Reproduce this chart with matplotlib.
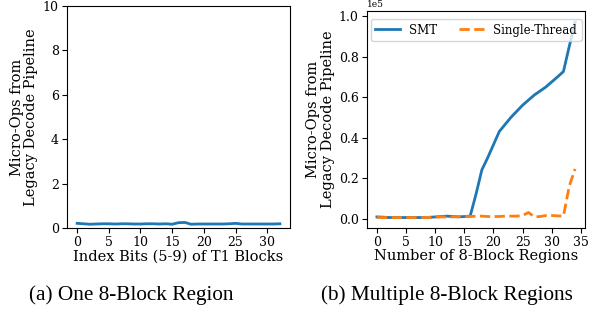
import numpy as np
import matplotlib
matplotlib.use("Agg")
import matplotlib.pyplot as plt

# (a) one 8-block region
idx_bits = list(range(0, 33))
one_region = [0.21, 0.19, 0.17, 0.18, 0.19, 0.19, 0.18, 0.19, 0.19, 0.18, 0.18, 0.19,
              0.19, 0.18, 0.19, 0.17, 0.24, 0.25, 0.17, 0.18, 0.18, 0.18, 0.18, 0.18,
              0.19, 0.21, 0.18, 0.18, 0.18, 0.18, 0.18, 0.18, 0.19]

# (b) multiple 8-block regions
n_regions = list(range(0, 35))
smt = [0.008, 0.007, 0.005, 0.005, 0.005, 0.005, 0.005, 0.005, 0.005, 0.006, 0.008, 0.010,
       0.012, 0.010, 0.008, 0.010, 0.012, 0.120, 0.240, 0.300, 0.365, 0.430, 0.465, 0.500,
       0.530, 0.560, 0.585, 0.610, 0.630, 0.650, 0.675, 0.700, 0.726, 0.850, 0.970]
single = [0.005, 0.005, 0.005, 0.005, 0.005, 0.005, 0.005, 0.005, 0.005, 0.006, 0.007, 0.008,
          0.008, 0.008, 0.010, 0.010, 0.010, 0.012, 0.012, 0.010, 0.010, 0.010, 0.012, 0.012,
          0.012, 0.015, 0.030, 0.008, 0.010, 0.015, 0.015, 0.013, 0.012, 0.160, 0.245]
smt_err = [0.003] * 17 + [0.006] * 18

plt.rcParams["font.family"] = "DejaVu Serif"

fig = plt.figure(figsize=(6.01, 3.11), dpi=100)
ax1 = fig.add_axes([67 / 601, 83 / 311, 223 / 601, 222 / 311])
ax2 = fig.add_axes([367 / 601, 83 / 311, 218 / 601, 217 / 311])

ax1.plot(idx_bits, one_region, color="tab:blue", lw=2)
ax1.fill_between(idx_bits, np.array(one_region) - 0.03, np.array(one_region) + 0.03,
                 color="tab:blue", alpha=0.2, lw=0)
ax1.set_ylim(0, 10)
ax1.set_xticks([0, 5, 10, 15, 20, 25, 30])
ax1.set_xlabel("Index Bits (5-9) of T1 Blocks", fontsize=10.5, labelpad=0)
ax1.set_ylabel("Micro-Ops from\nLegacy Decode Pipeline", fontsize=10.5, labelpad=3,
               linespacing=1.05)

smt_a = np.array(smt) * 1e5
err_a = np.array(smt_err) * 1e5
ax2.plot(n_regions, smt_a, color="tab:blue", lw=2, label="SMT")
ax2.fill_between(n_regions, smt_a - err_a, smt_a + err_a, color="tab:blue", alpha=0.2, lw=0)
ax2.plot(n_regions, np.array(single) * 1e5, color="tab:orange", lw=2, ls="--",
         label="Single-Thread")
ax2.set_xticks([0, 5, 10, 15, 20, 25, 30, 35])
ax2.ticklabel_format(axis="y", style="sci", scilimits=(0, 0))
ax2.set_xlabel("Number of 8-Block Regions", fontsize=10.5, labelpad=0)
ax2.set_ylabel("Micro-Ops from\nLegacy Decode Pipeline", fontsize=10.5, labelpad=3,
               linespacing=1.05)
ax2.yaxis.get_offset_text().set_fontsize(6.5)
ax2.legend(loc="upper left", bbox_to_anchor=(0.0, 0.98), ncol=2, fontsize=8.5,
           borderaxespad=0.3, borderpad=0.4, columnspacing=1.9, handlelength=2.1,
           handletextpad=0.75)

for ax in (ax1, ax2):
    ax.tick_params(labelsize=9, pad=2.5)

fig.text(131 / 601, 1 - 295 / 311, "(a) One 8-Block Region", ha="center", va="center",
         fontsize=15.3, family="Liberation Serif")
fig.text(447 / 601, 1 - 295 / 311, "(b) Multiple 8-Block Regions", ha="center",
         va="center", fontsize=15.3, family="Liberation Serif")

fig.savefig("out.png", dpi=100)
